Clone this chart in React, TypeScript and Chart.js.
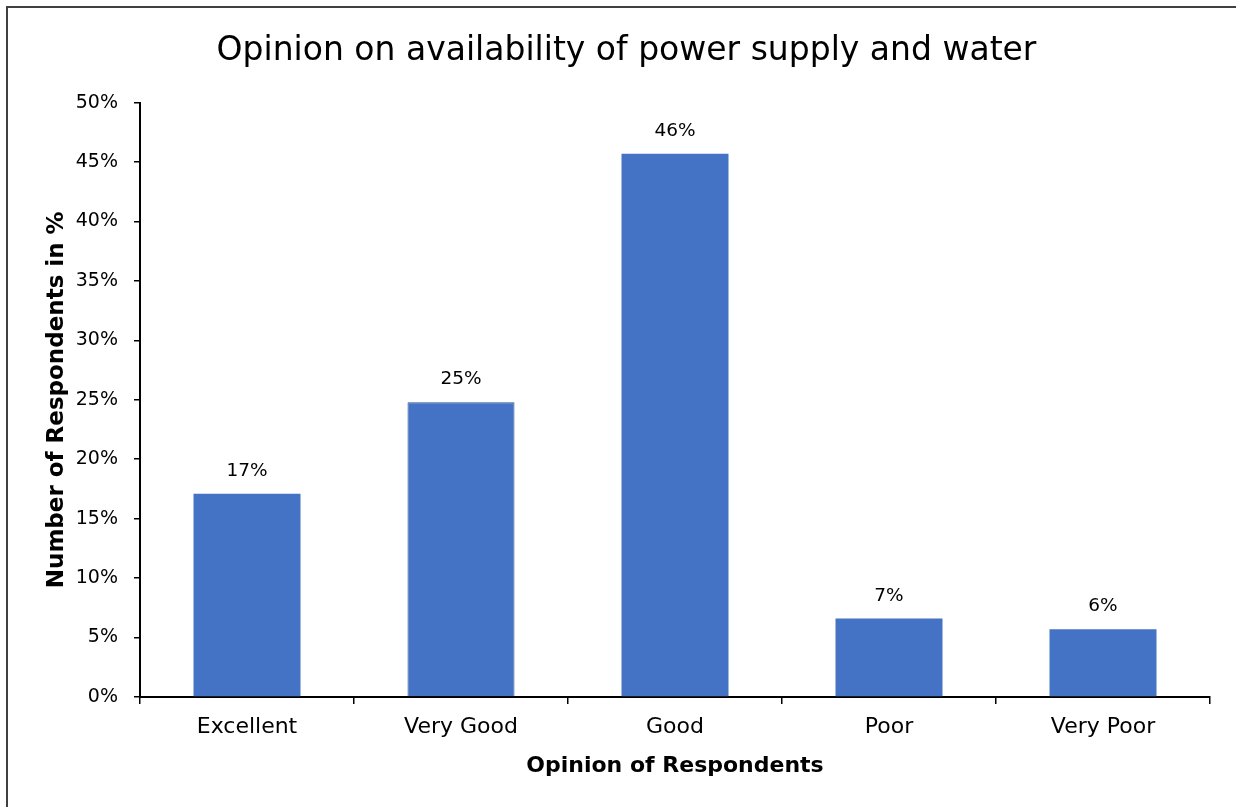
import React, { useEffect, useRef } from "react";
import { Chart, registerables } from "chart.js";

Chart.register(...registerables);

const categories = ["Excellent", "Very Good", "Good", "Poor", "Very Poor"];
const values = [17.1, 24.8, 45.7, 6.6, 5.7];
const valueLabels = ["17%", "25%", "46%", "7%", "6%"];
const titleText = "Opinion on availability of power supply and water";
const xTitle = "Opinion of Respondents";
const yTitle = "Number of Respondents in %";

const FONT = "'DejaVu Sans', sans-serif";

const dataLabelPlugin = {
  id: "dataLabels",
  afterDatasetsDraw(chart: any) {
    const ctx = chart.ctx;
    const meta = chart.getDatasetMeta(0);
    ctx.save();
    ctx.font = `18.5px ${FONT}`;
    ctx.fillStyle = "#000000";
    ctx.textAlign = "center";
    ctx.textBaseline = "alphabetic";
    meta.data.forEach((bar: any, i: number) => {
      ctx.fillText(valueLabels[i], bar.x, bar.y - 18);
    });
    ctx.restore();
  },
};

export default function App() {
  const ref = useRef<HTMLCanvasElement>(null);
  useEffect(() => {
    if (!ref.current) return;
    const chart = new Chart(ref.current, {
      type: "bar",
      data: {
        labels: categories,
        datasets: [
          {
            data: values,
            backgroundColor: "#4472C4",
            borderColor: "#2F528F",
            borderWidth: [0, 1, 0, 0, 0],
            barPercentage: 1,
            categoryPercentage: 0.5,
          },
        ],
      },
      options: {
        responsive: false,
        animation: false,
        layout: { padding: { left: 43, right: 26, top: 0, bottom: 28 } },
        plugins: {
          legend: { display: false },
          tooltip: { enabled: false },
          title: {
            display: true,
            text: titleText,
            color: "#000000",
            font: { family: FONT, size: 33, weight: "normal" },
            padding: { top: 32, bottom: 31 },
          },
        },
        scales: {
          x: {
            grid: {
              offset: true,
              drawOnChartArea: false,
              drawTicks: true,
              tickLength: 7,
              color: "#000000",
              lineWidth: 1.5,
            },
            border: { color: "#000000", width: 2 },
            ticks: {
              color: "#000000",
              font: { family: FONT, size: 22 },
              padding: 10,
              maxRotation: 0,
            },
            title: {
              display: true,
              text: xTitle,
              color: "#000000",
              font: { family: FONT, size: 22, weight: "bold" },
              padding: 0,
            },
            afterFit(scale: any) {
              scale.height = 82;
            },
          },
          y: {
            min: 0,
            max: 50,
            grid: {
              drawOnChartArea: false,
              drawTicks: true,
              tickLength: 6,
              color: "#000000",
              lineWidth: 1.5,
            },
            border: { color: "#000000", width: 2 },
            ticks: {
              stepSize: 5,
              color: "#000000",
              font: { family: FONT, size: 19 },
              padding: 16,
              callback: (v: any) => `${v}%`,
            },
            title: {
              display: true,
              text: yTitle,
              color: "#000000",
              font: { family: FONT, size: 23, weight: "bold" },
              padding: 0,
            },
            afterFit(scale: any) {
              scale.width = 97;
            },
          },
        },
      },
      plugins: [dataLabelPlugin],
    });
    return () => chart.destroy();
  }, []);

  return (
    <div
      style={{
        position: "fixed",
        left: 0,
        top: 0,
        width: 1236,
        height: 807,
        background: "#ffffff",
        overflow: "hidden",
      }}
    >
      <div
        style={{
          position: "absolute",
          left: 6,
          top: 6,
          width: 1260,
          height: 830,
          border: "2px solid #404040",
          boxSizing: "border-box",
        }}
      />
      <canvas
        ref={ref}
        width={1236}
        height={807}
        style={{ position: "absolute", left: 0, top: 0 }}
      />
    </div>
  );
}
